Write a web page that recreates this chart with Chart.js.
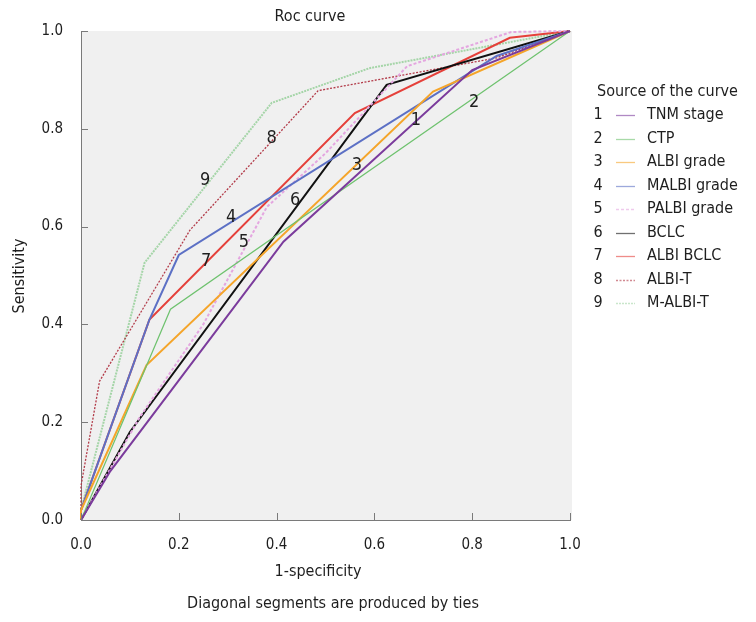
<!DOCTYPE html>
<html><head><meta charset="utf-8">
<script src="https://cdn.jsdelivr.net/npm/chart.js@4.4.0/dist/chart.umd.min.js"></script>
<style>html,body{margin:0;padding:0;background:#fff}#wrap{width:756px;height:622px}</style>
</head><body><div id="wrap"><canvas id="c" width="756" height="622"></canvas></div>
<script>
// ---- data ----
const seriesNames = ['TNM stage','CTP','ALBI grade','MALBI grade','PALBI grade','BCLC','ALBI BCLC','ALBI-T','M-ALBI-T'];
const seriesNumbers = ['1','2','3','4','5','6','7','8','9'];
const tnmFpr   = [0, 0.06, 0.414, 0.80, 1];
const tnmTpr   = [0, 0.10, 0.569, 0.92, 1];
const ctpFpr   = [0, 0.183, 1];
const ctpTpr   = [0, 0.431, 1];
const albiFpr  = [0, 0, 0.134, 0.72, 1];
const albiTpr  = [0, 0.02, 0.317, 0.876, 1];
const malbiFpr = [0, 0, 0.14, 0.20, 0.85, 1];
const malbiTpr = [0, 0.02, 0.41, 0.542, 0.949, 1];
const palbiFpr = [0, 0.12, 0.25, 0.38, 0.50, 0.667, 0.88, 1];
const palbiTpr = [0, 0.21, 0.40, 0.64, 0.75, 0.928, 0.998, 1];
const bclcFpr  = [0, 0.10, 0.625, 1];
const bclcTpr  = [0, 0.18, 0.89, 1];
const albiBclcFpr = [0, 0, 0.14, 0.56, 0.877, 1];
const albiBclcTpr = [0, 0.02, 0.41, 0.832, 0.986, 1];
const albiTFpr = [0, 0, 0.038, 0.223, 0.485, 0.85, 1];
const albiTTpr = [0, 0.07, 0.284, 0.593, 0.878, 0.945, 1];
const mAlbiTFpr = [0, 0, 0.13, 0.39, 0.59, 1];
const mAlbiTTpr = [0, 0.02, 0.526, 0.853, 0.924, 1];
// curve number labels (fpr, tpr where each number sits)
const labelFpr = [0.685, 0.804, 0.564, 0.307, 0.333, 0.438, 0.256, 0.39, 0.254];
const labelTpr = [0.818, 0.855, 0.726, 0.618, 0.568, 0.654, 0.528, 0.781, 0.695];
const tickValues = [0, 0.2, 0.4, 0.6, 0.8, 1.0];
const tickLabels = ['0.0','0.2','0.4','0.6','0.8','1.0'];

const fprs = [tnmFpr, ctpFpr, albiFpr, malbiFpr, palbiFpr, bclcFpr, albiBclcFpr, albiTFpr, mAlbiTFpr];
const tprs = [tnmTpr, ctpTpr, albiTpr, malbiTpr, palbiTpr, bclcTpr, albiBclcTpr, albiTTpr, mAlbiTTpr];

// ---- styles ----
const colors = ['#7b3b9c','#6ec26e','#f5a52a','#5c70c5','#e4a6e0','#111111','#e5403a','#b23a48','#a5d5a8'];
const widths = [2, 1.2, 2, 2, 2, 2, 2, 1.3, 2];
const dashes = [[], [], [], [], [3,2], [], [], [2,1.5], [2,1]];
const FONT = "'DejaVu Sans Condensed', 'DejaVu Sans', sans-serif";
const TXT = '#1e1e1e';

const datasets = seriesNames.map((name, i) => ({
  label: name,
  data: fprs[i].map((x, j) => ({x: x, y: tprs[i][j]})),
  borderColor: colors[i],
  backgroundColor: colors[i],
  borderWidth: widths[i],
  borderDash: dashes[i],
  showLine: true,
  pointRadius: 0,
  tension: 0,
  fill: false,
  clip: 4
}));

const decor = {
  id: 'decor',
  beforeDraw(chart) {
    const ctx = chart.ctx, a = chart.chartArea;
    ctx.save();
    ctx.fillStyle = '#ffffff';
    ctx.fillRect(0, 0, chart.width, chart.height);
    ctx.fillStyle = '#f0f0f0';
    ctx.fillRect(a.left, a.top, a.right - a.left + 2, a.bottom - a.top);
    ctx.restore();
  },
  afterDraw(chart) {
    const ctx = chart.ctx, a = chart.chartArea;
    const xs = chart.scales.x, ys = chart.scales.y;
    ctx.save();
    // inward tick marks
    ctx.strokeStyle = '#7a7a7a';
    ctx.lineWidth = 1;
    tickValues.forEach(v => {
      const px = Math.round(xs.getPixelForValue(v)) + 0.5;
      ctx.beginPath(); ctx.moveTo(px, a.bottom); ctx.lineTo(px, a.bottom - 7); ctx.stroke();
      const py = Math.round(ys.getPixelForValue(v)) + 0.5;
      ctx.beginPath(); ctx.moveTo(a.left, py); ctx.lineTo(a.left + 7, py); ctx.stroke();
    });
    // curve numbers
    ctx.fillStyle = TXT;
    ctx.font = '18px ' + FONT;
    ctx.textAlign = 'center';
    ctx.textBaseline = 'middle';
    seriesNumbers.forEach((n, i) => {
      ctx.fillText(n, xs.getPixelForValue(labelFpr[i]), ys.getPixelForValue(labelTpr[i]));
    });
    // title & axis titles
    ctx.font = '16px ' + FONT;
    ctx.fillText('Roc curve', 310, 17);
    ctx.fillText('1-specificity', 318, 572);
    ctx.fillText('Diagonal segments are produced by ties', 333, 604);
    ctx.save();
    ctx.translate(20, 276);
    ctx.rotate(-Math.PI / 2);
    ctx.fillText('Sensitivity', 0, 0);
    ctx.restore();
    // legend
    ctx.textAlign = 'left';
    ctx.fillText('Source of the curve', 597, 92);
    chart.data.datasets.forEach((ds, i) => {
      const y = 115 + i * 23.5;
      ctx.textAlign = 'center';
      ctx.fillStyle = TXT;
      ctx.fillText(seriesNumbers[i], 598, y);
      ctx.save();
      ctx.globalAlpha = 0.6;
      ctx.strokeStyle = ds.borderColor;
      ctx.lineWidth = 1.3;
      ctx.setLineDash(ds.borderDash || []);
      ctx.beginPath(); ctx.moveTo(616, Math.round(y) + 0.5); ctx.lineTo(635, Math.round(y) + 0.5); ctx.stroke();
      ctx.restore();
      ctx.textAlign = 'left';
      ctx.fillText(ds.label, 647, y);
    });
    ctx.restore();
  }
};

new Chart(document.getElementById('c'), {
  type: 'scatter',
  data: { datasets: datasets },
  options: {
    responsive: false,
    animation: false,
    layout: { padding: { left: 0, top: 31, right: 186, bottom: 0 } },
    plugins: { legend: { display: false }, title: { display: false }, tooltip: { enabled: false } },
    scales: {
      x: {
        type: 'linear', min: 0, max: 1,
        afterFit: s => { s.height = 102; },
        afterBuildTicks: s => { s.ticks = tickValues.map(v => ({value: v})); },
        ticks: { callback: (v, i) => tickLabels[i], color: TXT, font: { family: FONT, size: 15 }, padding: 16, maxRotation: 0 },
        grid: { display: true, drawOnChartArea: false, drawTicks: false },
        border: { display: true, color: '#7a7a7a', width: 1 }
      },
      y: {
        type: 'linear', min: 0, max: 1,
        afterFit: s => { s.width = 81; },
        afterBuildTicks: s => { s.ticks = tickValues.map(v => ({value: v})); },
        ticks: { callback: (v, i) => tickLabels[i], color: TXT, font: { family: FONT, size: 15 }, padding: 18 },
        grid: { display: true, drawOnChartArea: false, drawTicks: false },
        border: { display: true, color: '#7a7a7a', width: 1 }
      }
    }
  },
  plugins: [decor]
});
</script></body></html>
